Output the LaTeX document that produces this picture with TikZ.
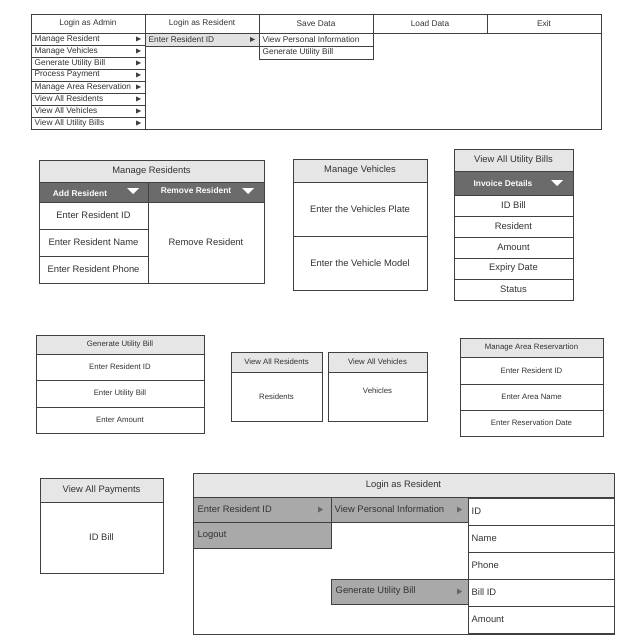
\documentclass[tikz,border=0pt]{standalone}
\usepackage{fontspec}
\setmainfont{Liberation Sans}
\definecolor{hdrgray}{HTML}{E6E6E6}
\definecolor{bargray}{HTML}{6B6B6B}
\definecolor{itemgray}{HTML}{A9A9A9}
\definecolor{selgray}{HTML}{E2E2E2}
\definecolor{linegray}{HTML}{404040}
\definecolor{txtgray}{HTML}{333333}
\begin{document}
\begin{tikzpicture}[x=1pt, y=-1pt, line width=0.7pt,
    box/.style={draw=linegray, fill=white},
    hdr/.style={draw=linegray, fill=hdrgray},
    bar/.style={draw=linegray, fill=bargray},
    item/.style={draw=linegray, fill=itemgray},
    menufont/.style={font=\fontsize{8.3}{10}\selectfont, text=txtgray},
    bigfont/.style={font=\fontsize{9.4}{11}\selectfont, text=txtgray},
    smallfont/.style={font=\fontsize{7.8}{9}\selectfont, text=txtgray},
    barfont/.style={font=\bfseries\fontsize{8.4}{10}\selectfont, text=white}]
            \useasboundingbox (0,0) rectangle (636,639);
            % top menu bar
            \draw[box] (31,14) rectangle (601,129);
            \draw[box] (31,14) rectangle (145,33) node[midway, menufont] {Login as Admin};
            \draw[box] (145,14) rectangle (259,33) node[midway, menufont] {Login as Resident};
            \draw[box] (259,14) rectangle (373,33) node[midway, menufont] {Save Data};
            \draw[box] (373,14) rectangle (487,33) node[midway, menufont] {Load Data};
            \draw[box] (487,14) rectangle (601,33) node[midway, menufont] {Exit};
            \draw[box] (31,33) rectangle (145,45) node[midway, menufont, anchor=west, xshift=-57pt] (ad1) {Manage Resident};
            \draw[box] (31,45) rectangle (145,57) node[midway, menufont, anchor=west, xshift=-57pt] (ad2) {Manage Vehicles};
            \draw[box] (31,57) rectangle (145,69) node[midway, menufont, anchor=west, xshift=-57pt] (ad3) {Generate Utility Bill};
            \draw[box] (31,69) rectangle (145,81) node[midway, menufont, anchor=west, xshift=-57pt] (ad4) {Process Payment};
            \draw[box] (31,81) rectangle (145,93) node[midway, menufont, anchor=west, xshift=-57pt] (ad5) {Manage Area Reservation};
            \draw[box] (31,93) rectangle (145,105) node[midway, menufont, anchor=west, xshift=-57pt] (ad6) {View All Residents};
            \draw[box] (31,105) rectangle (145,117) node[midway, menufont, anchor=west, xshift=-57pt] (ad7) {View All Vehicles};
            \draw[box] (31,117) rectangle (145,129) node[midway, menufont, anchor=west, xshift=-57pt] (ad8) {View All Utility Bills};
            \foreach \y in {39,51,63,75,87,99,111,123}
                \fill[linegray] (136,\y-2.5) -- (141,\y) -- (136,\y+2.5) -- cycle;
            \draw[draw=linegray, fill=selgray] (145,33) rectangle (259,46) node[midway, menufont, anchor=west, xshift=-57pt] (rs1) {Enter Resident ID};
            \fill[linegray] (250,37) -- (255,39.5) -- (250,42) -- cycle;
            \draw[box] (259,33) rectangle (373,46) node[midway, menufont, anchor=west, xshift=-57pt] (sb1) {View Personal Information};
            \draw[box] (259,46) rectangle (373,59) node[midway, menufont, anchor=west, xshift=-57pt] (sb2) {Generate Utility Bill};
            % manage residents
            \draw[hdr] (39,160) rectangle (264,182) node[midway, bigfont] {Manage Residents};
            \draw[bar] (39,182) rectangle (148,202);
            \draw[bar] (148,182) rectangle (264,202);
            \node[barfont] (addres) at (80,193) {Add Resident};
            \node[barfont] (remres) at (196,190) {Remove Resident};
            \fill[white] (127,188) -- (139,188) -- (133,194) -- cycle;
            \fill[white] (242,188) -- (254,188) -- (248,194) -- cycle;
            \draw[box] (39,202) rectangle (148,229) node[midway, bigfont] {Enter Resident ID};
            \draw[box] (39,229) rectangle (148,256) node[midway, bigfont] {Enter Resident Name};
            \draw[box] (39,256) rectangle (148,283) node[midway, bigfont] {Enter Resident Phone};
            \draw[box] (148,202) rectangle (264,283) node[midway, bigfont] {Remove Resident};
            % manage vehicles
            \draw[hdr] (293,159) rectangle (427,182) node[midway, bigfont] {Manage Vehicles};
            \draw[box] (293,182) rectangle (427,236) node[midway, bigfont] {Enter the Vehicles Plate};
            \draw[box] (293,236) rectangle (427,290) node[midway, bigfont] {Enter the Vehicle Model};
            % view all utility bills
            \draw[hdr] (454,149) rectangle (573,171) node[midway, bigfont] {View All Utility Bills};
            \draw[bar] (454,171) rectangle (573,195);
            \node[barfont] (invoice) at (503,183) {Invoice Details};
            \fill[white] (551,180) -- (563,180) -- (557,186) -- cycle;
            \draw[box] (454,195) rectangle (573,216) node[midway, bigfont] {ID Bill};
            \draw[box] (454,216) rectangle (573,237) node[midway, bigfont] {Resident};
            \draw[box] (454,237) rectangle (573,258) node[midway, bigfont] {Amount};
            \draw[box] (454,258) rectangle (573,279) node[midway, bigfont] {Expiry Date};
            \draw[box] (454,279) rectangle (573,300) node[midway, bigfont] {Status};
            % generate utility bill
            \draw[hdr] (36,335) rectangle (204,354) node[midway, smallfont] {Generate Utility Bill};
            \draw[box] (36,354) rectangle (204,380) node[midway, smallfont] {Enter Resident ID};
            \draw[box] (36,380) rectangle (204,407) node[midway, smallfont] {Enter Utility Bill};
            \draw[box] (36,407) rectangle (204,433) node[midway, smallfont] {Enter Amount};
            % view all residents / vehicles
            \draw[hdr] (231,352) rectangle (322,372) node[midway, smallfont] {View All Residents};
            \draw[box] (231,372) rectangle (322,421) node[midway, smallfont] {Residents};
            \draw[hdr] (328,352) rectangle (427,372) node[midway, smallfont] {View All Vehicles};
            \draw[box] (328,372) rectangle (427,421);
            \node[smallfont] (vehicles) at (377.5,391) {Vehicles};
            % manage area reservation
            \draw[hdr] (460,338) rectangle (603,357) node[midway, smallfont] {Manage Area Reservartion};
            \draw[box] (460,357) rectangle (603,384) node[midway, smallfont] {Enter Resident ID};
            \draw[box] (460,384) rectangle (603,410) node[midway, smallfont] {Enter Area Name};
            \draw[box] (460,410) rectangle (603,436) node[midway, smallfont] {Enter Reservation Date};
            % view all payments
            \draw[hdr] (40,478) rectangle (163,502) node[midway, bigfont] {View All Payments};
            \draw[box] (40,502) rectangle (163,573) node[midway, bigfont] {ID Bill};
            % login as resident
            \draw[box] (193,473) rectangle (614,634);
            \draw[hdr] (193,473) rectangle (614,497) node[midway, bigfont] {Login as Resident};
            \draw[item] (193,497) rectangle (331,522);
            \node[bigfont, anchor=west] (lrid) at (194,509.5) {Enter Resident ID};
            \fill[linegray!80] (318,506.5) -- (323,509.5) -- (318,512.5) -- cycle;
            \draw[item] (193,522) rectangle (331,548);
            \node[bigfont, anchor=west] (logout) at (194,535) {Logout};
            \draw[item] (331,497) rectangle (468,522);
            \node[bigfont, anchor=west] (lrview) at (331,509.5) {View Personal Information};
            \fill[linegray!80] (457,506.5) -- (462,509.5) -- (457,512.5) -- cycle;
            \draw[item] (331,579) rectangle (468,604);
            \node[bigfont, anchor=west] (lrgen) at (332,591.5) {Generate Utility Bill};
            \fill[linegray!80] (457,588.5) -- (462,591.5) -- (457,594.5) -- cycle;
            \draw[box] (468,498) rectangle (614,525);
            \node[bigfont, anchor=west] (pid) at (468,511.5) {ID};
            \draw[box] (468,525) rectangle (614,552);
            \node[bigfont, anchor=west] (pname) at (468,538.5) {Name};
            \draw[box] (468,552) rectangle (614,579);
            \node[bigfont, anchor=west] (pphone) at (468,565.5) {Phone};
            \draw[box] (468,579) rectangle (614,606);
            \node[bigfont, anchor=west] (pbill) at (468,592.5) {Bill ID};
            \draw[box] (468,606) rectangle (614,633);
            \node[bigfont, anchor=west] (pamount) at (468,619.5) {Amount};
        \end{tikzpicture}
\end{document}
